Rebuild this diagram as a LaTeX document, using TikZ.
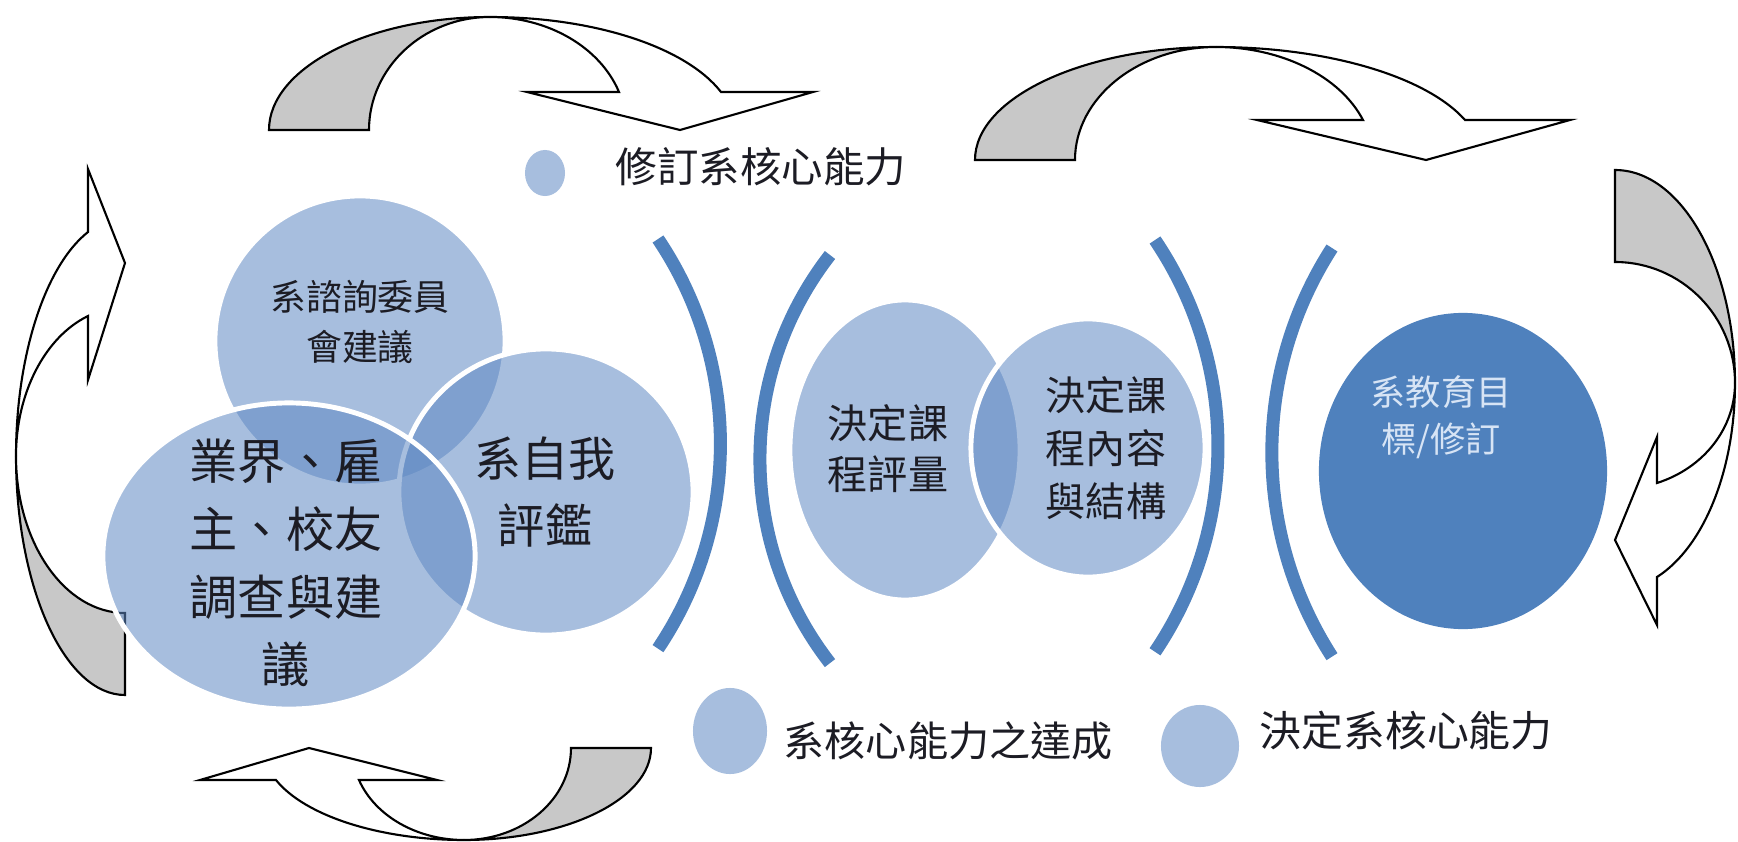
\documentclass[tikz,border=0pt]{standalone}
\usepackage{fontspec}
\newfontfamily\cjk{Noto Sans CJK TC}
\definecolor{vennc}{RGB}{95,137,195}
\definecolor{darkc}{RGB}{79,129,189}
\definecolor{dotc}{RGB}{167,190,222}
\definecolor{arrowgray}{RGB}{200,200,200}
\definecolor{txtc}{RGB}{28,28,36}
\definecolor{lighttxt}{RGB}{215,228,245}
\tikzset{
  arrback/.style={draw=black, line width=0.6pt, fill=arrowgray, line join=miter},
  arrfront/.style={draw=black, line width=0.6pt, fill=white, line join=miter},
  venn/.style={fill=vennc, fill opacity=0.55, draw=white, line width=1.4pt},
  dotshape/.style={fill=dotc},
  bracket/.style={draw=darkc, line width=0.13cm, line cap=butt},
  lbl/.style={inner sep=0pt, text=txtc, align=center},
}
\begin{document}
\begin{tikzpicture}[x=0.01cm, y=-0.01cm]
\fill[white] (0,0) rectangle (1738,842);
\useasboundingbox (0,0) rectangle (1738,842);

% ---- curved arrows ----
% top left
\filldraw[arrback] (269,130) .. controls (269,68) and (368,17) .. (490,17)
  .. controls (423,17) and (369,68) .. (369,130) -- cycle;
\filldraw[arrfront] (490,17) .. controls (594,17) and (686,47) .. (721,92)
  -- (813,92) -- (680,130) -- (527,92) -- (619,92)
  .. controls (600,47) and (548,17) .. (490,17) -- cycle;
% top right
\filldraw[arrback] (975,160) .. controls (975,98) and (1083,47) .. (1216,47)
  .. controls (1138,47) and (1075,98) .. (1075,160) -- cycle;
\filldraw[arrfront] (1216,47) .. controls (1326,47) and (1426,76) .. (1465,120)
  -- (1570,120) -- (1426,160) -- (1257,120) -- (1363,120)
  .. controls (1340,76) and (1281,47) .. (1216,47) -- cycle;
% right
\filldraw[arrback] (1615,170) .. controls (1681,170) and (1735,265) .. (1735,383)
  .. controls (1735,316) and (1681,262) .. (1615,262) -- cycle;
\filldraw[arrfront] (1735,383) .. controls (1735,470) and (1704,547) .. (1657,577)
  -- (1657,625) -- (1615,540) -- (1657,437) -- (1657,483)
  .. controls (1704,468) and (1735,428) .. (1735,383) -- cycle;
% left
\filldraw[arrback] (125,695) .. controls (65,695) and (16,588) .. (16,456)
  .. controls (16,543) and (65,613) .. (125,613) -- cycle;
\filldraw[arrfront] (16,456) .. controls (16,356) and (45,266) .. (88,232)
  -- (88,169) -- (125,263) -- (88,380) -- (88,316)
  .. controls (45,337) and (16,393) .. (16,456) -- cycle;
% bottom
\filldraw[arrback] (651,748) .. controls (651,799) and (567,840) .. (464,840)
  .. controls (523,840) and (571,799) .. (571,748) -- cycle;
\filldraw[arrfront] (464,840) .. controls (380,840) and (305,816) .. (276,780)
  -- (200,780) -- (309,748) -- (437,780) -- (359,780)
  .. controls (375,816) and (417,840) .. (464,840) -- cycle;

% ---- brackets ----
\draw[bracket] (658,239) arc[start angle=33.9, end angle=-33.9, radius=3.67cm];
\draw[bracket] (830,255) arc[start angle=142.1, end angle=217.9, radius=3.32cm];
\draw[bracket] (1155,240) arc[start angle=34, end angle=-34, radius=3.68cm];
\draw[bracket] (1332,248) arc[start angle=147.2, end angle=212.8, radius=3.77cm];

% ---- venn circles ----
\path[venn] (360,341) ellipse[x radius=1.45cm, y radius=1.45cm];
\path[venn] (546,492) ellipse[x radius=1.47cm, y radius=1.43cm];
\path[venn] (289,556) ellipse[x radius=1.86cm, y radius=1.53cm];
\path[venn] (905,450) ellipse[x radius=1.15cm, y radius=1.50cm];
\path[venn] (1088,448) ellipse[x radius=1.17cm, y radius=1.29cm];
\fill[darkc] (1463,471) ellipse[x radius=1.44cm, y radius=1.58cm];

% ---- bullet dots ----
\fill[dotshape] (545,173) ellipse[x radius=0.20cm, y radius=0.23cm];
\fill[dotshape] (730,731) ellipse[x radius=0.37cm, y radius=0.43cm];
\fill[dotshape] (1200,746) ellipse[x radius=0.39cm, y radius=0.41cm];

% ---- texts ----
\node[lbl, anchor=west, font=\cjk\fontsize{11.8}{14}\selectfont] (trev) at (615,167) {修訂系核心能力};
\node[lbl, anchor=west, font=\cjk\fontsize{11.7}{14}\selectfont] (tach) at (783,741) {系核心能力之達成};
\node[lbl, anchor=west, font=\cjk\fontsize{11.9}{14}\selectfont] (tdec) at (1259,731) {決定系核心能力};

\node[lbl, font=\cjk\fontsize{10.2}{14.2}\selectfont] (tc1) at (360,322) {系諮詢委員\\會建議};
\node[lbl, font=\cjk\fontsize{13.4}{18.8}\selectfont] (tc2) at (545,492) {系自我\\評鑑};
\node[lbl, font=\cjk\fontsize{13.7}{19.3}\selectfont] (tc3) at (286,563) {業界、雇\\主、校友\\調查與建\\議};
\node[lbl, font=\cjk\fontsize{11.4}{14.5}\selectfont] (tc4) at (888,449) {決定課\\程評量};
\node[lbl, font=\cjk\fontsize{11.4}{15}\selectfont] (tc5) at (1106,448) {決定課\\程內容\\與結構};
\node[lbl, text=lighttxt, font=\cjk\fontsize{10}{13.4}\selectfont] (tc6) at (1441,417) {系教育目\\標/修訂};
\end{tikzpicture}
\end{document}
